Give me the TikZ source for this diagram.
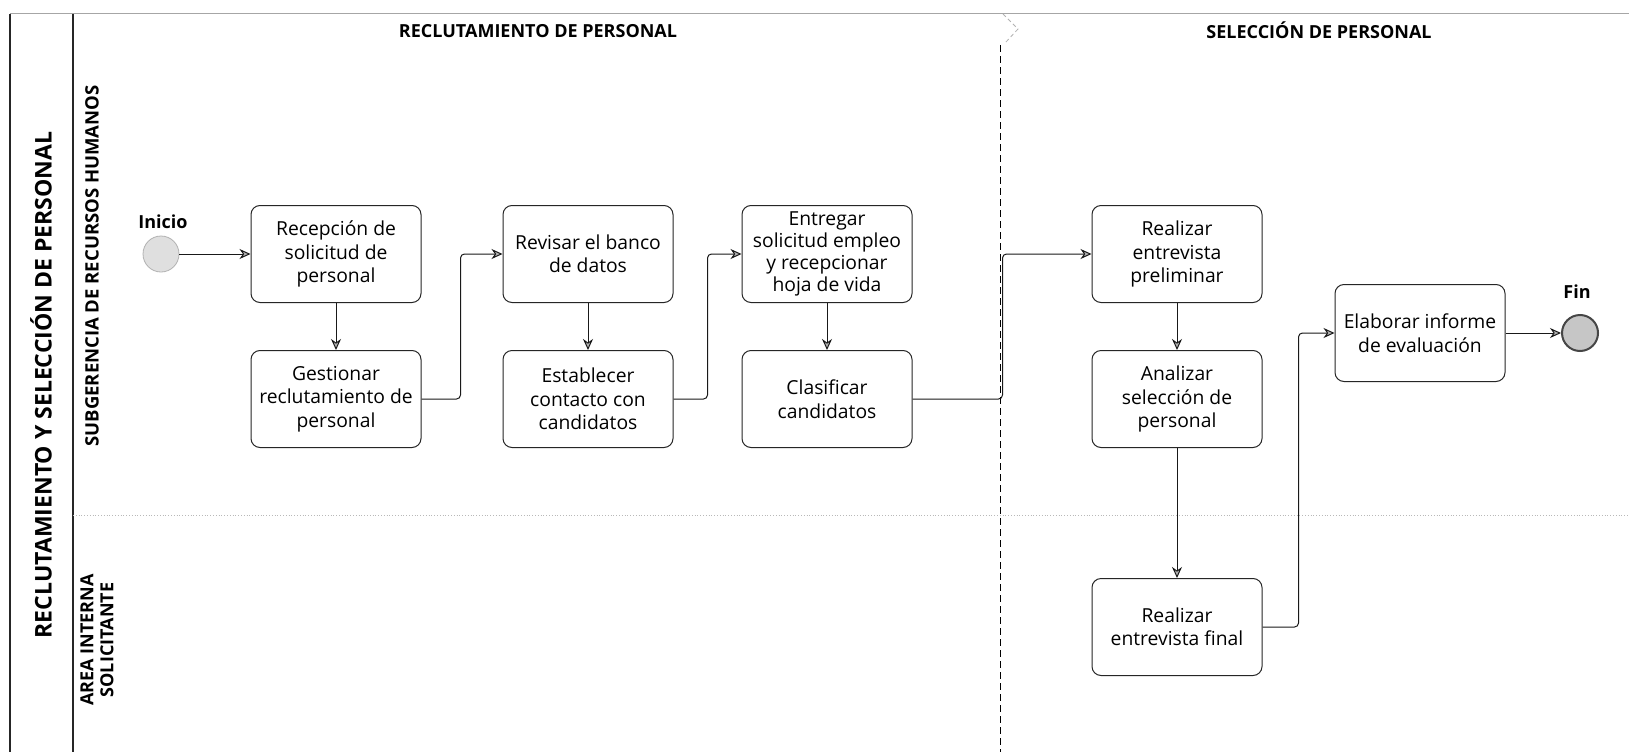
\documentclass[tikz,border=0pt]{standalone}
\usepackage{fontspec}
\setmainfont{Open Sans}
\usetikzlibrary{arrows.meta}
\begin{document}
\begin{tikzpicture}[x=1pt,y=-1pt,
  task/.style={draw=gray!30!black, line width=1pt, rounded corners=9pt, minimum width=170pt, minimum height=97pt, align=center, inner sep=2pt, font=\fontsize{19.3}{23.5}\selectfont},
  startev/.style={circle, draw=gray!60, fill=gray!25, line width=0.8pt, minimum size=36pt, inner sep=0pt},
  endev/.style={circle, draw=gray!55!black, fill=gray!45, line width=2pt, minimum size=36pt, inner sep=0pt},
  flow/.style={draw=gray!20!black, line width=1pt, rounded corners=4pt, -{Stealth[length=11pt,width=10pt,inset=3.5pt,fill=gray!60]}},
  evlabel/.style={font=\bfseries\fontsize{18}{20}\selectfont, inner sep=0pt},
  header/.style={font=\bfseries\fontsize{18}{20}\selectfont, inner sep=0pt},
  lanelabel/.style={font=\bfseries\fontsize{18.5}{20}\selectfont, rotate=90, align=center, inner sep=0pt},
  frameline/.style={draw=black!85, line width=1.2pt},
  topline/.style={draw=gray!70, line width=1pt},
  lanesep/.style={draw=gray!55, line width=0.8pt, dotted},
  phasesep/.style={draw=black, line width=0.9pt, dash pattern=on 7pt off 4pt}
]
\useasboundingbox (0,0) rectangle (1629,752);
\fill[white] (0,0) rectangle (1629,752);

% frame
\draw[topline] (10,14) -- (1629,14);
\draw[frameline] (10,14) -- (10,752);
\draw[frameline] (73,14) -- (73,752);
\draw[lanesep] (73,515) -- (1629,515);
\draw[phasesep] (1000,45) -- (1000,752);
\draw[gray!60, line width=0.8pt, dash pattern=on 4pt off 3pt] (1003,14) -- (1018,29) -- (1005,43);

% titles
\node[font=\bfseries\fontsize{23}{27}\selectfont, rotate=90, inner sep=0pt] (pooltitle) at (41,385) {RECLUTAMIENTO Y SELECCIÓN DE PERSONAL};
\node[lanelabel] (lane1) at (92,266) {SUBGERENCIA DE RECURSOS HUMANOS};
\node[lanelabel, font=\bfseries\fontsize{18}{20}\selectfont] (lane2) at (97,640) {AREA INTERNA\\SOLICITANTE};
\node[header] (ph1) at (538,31) {RECLUTAMIENTO DE PERSONAL};
\node[header] (ph2) at (1319,30) {SELECCIÓN DE PERSONAL};

% events
\node[startev] (ini) at (161,254) {};
\node[evlabel] (inilab) at (163,222) {Inicio};
\node[endev] (fin) at (1580,333) {};
\node[evlabel] (finlab) at (1577,292) {Fin};

% tasks
\node[task] (rec) at (336,254) {Recepción de\\solicitud de\\personal};
\node[task] (gest) at (336,399) {Gestionar\\reclutamiento de\\personal};
\node[task] (rev) at (588,254) {Revisar el banco\\de datos};
\node[task] (est) at (588,399) {Establecer\\contacto con\\candidatos};
\node[task, font=\fontsize{19.3}{22}\selectfont] (ent) at (827,254) {Entregar\\solicitud empleo\\y recepcionar\\hoja de vida};
\node[task] (cla) at (827,399) {Clasificar\\candidatos};
\node[task] (pre) at (1177,254) {Realizar\\entrevista\\preliminar};
\node[task] (ana) at (1177,399) {Analizar\\selección de\\personal};
\node[task] (fint) at (1177,627) {Realizar\\entrevista final};
\node[task] (ela) at (1420,333) {Elaborar informe\\de evaluación};

% flows
\draw[flow] (ini) -- (rec);
\draw[flow] (rec) -- (gest);
\draw[flow] (gest.east) -- ++(39,0) |- (rev.west);
\draw[flow] (rev) -- (est);
\draw[flow] (est.east) -- ++(34,0) |- (ent.west);
\draw[flow] (ent) -- (cla);
\draw[flow] (cla.east) -- ++(90,0) |- (pre.west);
\draw[flow] (pre) -- (ana);
\draw[flow] (ana) -- (fint);
\draw[flow] (fint.east) -- ++(36,0) |- (ela.west);
\draw[flow] (ela) -- (fin);
\end{tikzpicture}
\end{document}
